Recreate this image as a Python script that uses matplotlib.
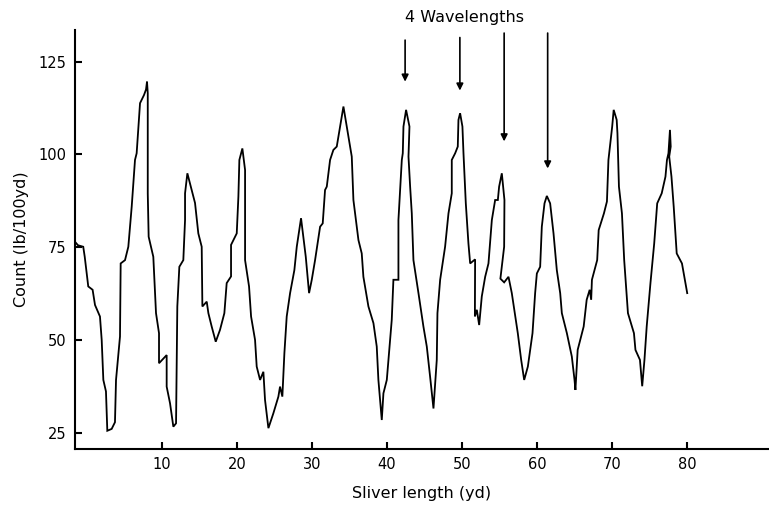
import matplotlib
matplotlib.use("Agg")
import matplotlib.pyplot as plt

# trace: sliver length (yd) vs count (lb/100yd)
sliver_yd = [
    -1.8, -1.2, -0.5, -0.3, 0.17, 0.75, 1.07, 1.73, 1.96, 2.18, 2.53, 2.71, 3.29, 3.73,
    3.87, 4.4, 4.49, 5.07, 5.51, 5.96, 6.4, 6.62, 7.07, 7.6, 7.87, 8.0, 8.1, 8.1, 8.22,
    8.84, 9.2, 9.6, 9.6, 10.62, 10.62, 11.07, 11.51, 11.87, 12.04, 12.31, 12.84, 13.07,
    13.07, 13.38, 14.4, 14.84, 15.29, 15.38, 15.96, 16.18, 16.62, 17.16, 17.73, 18.31,
    18.62, 19.2, 19.2, 19.96, 20.18, 20.31, 20.71, 21.07, 21.07, 21.6, 21.87, 22.4, 22.62,
    23.07, 23.51, 23.73, 24.18, 24.84, 25.51, 25.73, 26.04, 26.31, 26.62, 27.07, 27.64,
    27.96, 28.53, 29.16, 29.6, 29.96, 30.4, 31.07, 31.42, 31.73, 31.96, 32.4, 32.84, 33.29,
    33.73, 34.18, 34.62, 35.29, 35.51, 36.18, 36.62, 36.84, 37.51, 38.18, 38.62, 38.84,
    39.29, 39.51, 39.96, 40.62, 40.84, 41.51, 41.51, 41.96, 42.09, 42.18, 42.53, 42.98,
    42.85, 43.07, 43.29, 43.51, 44.18, 44.84, 45.29, 45.73, 46.18, 46.62, 46.71, 47.07,
    47.73, 48.18, 48.62, 48.62, 49.07, 49.42, 49.51, 49.73, 50.04, 50.18, 50.49, 50.84,
    51.07, 51.73, 51.7, 51.96, 52.27, 52.62, 53.07, 53.51, 53.96, 54.4, 54.76, 54.93,
    55.29, 55.64, 55.6, 55.1, 55.6, 56.18, 56.62, 57.16, 57.42, 57.87, 58.27, 58.76,
    59.38, 59.73, 59.96, 60.4, 60.62, 60.98, 61.29, 61.73, 62.18, 62.62, 63.07, 63.29,
    63.96, 64.62, 64.98, 65.1, 65.4, 66.2, 66.6, 67.0, 67.2, 67.3, 68.0, 68.2, 68.9, 69.3,
    69.5, 70.0, 70.2, 70.6, 70.7, 70.9, 71.3, 71.6, 72.1, 72.9, 73.1, 73.7, 74.0, 74.3,
    74.6, 75.1, 75.6, 76.0, 76.6, 77.1, 77.3, 77.5, 77.7, 77.8, 77.6, 77.9, 78.2, 78.6,
    79.3, 80.0,
]
count = [
    76.9, 75.5, 75.1, 72.4, 64.4, 63.5, 59.4, 56.3, 50.0, 39.2, 36.1, 25.5, 26.0, 27.8,
    39.2, 50.9, 70.6, 71.5, 75.1, 85.9, 98.5, 100.3, 113.8, 116.0, 117.5, 119.6, 116.5, 89.5, 77.8,
    72.4, 57.2, 51.8, 43.7, 45.9, 37.4, 32.9, 26.6, 27.5, 59.0, 69.7, 71.5, 82.3,
    89.5, 94.9, 86.9, 78.7, 75.1, 59.0, 60.3, 57.2, 53.6, 49.5, 52.7, 57.2,
    65.3, 67.1, 75.6, 78.7, 88.6, 98.5, 101.6, 95.8, 71.5, 64.4, 56.3, 50.0, 42.8,
    39.2, 41.4, 33.8, 26.2, 30.2, 34.7, 37.4, 34.7, 46.4, 56.3, 62.6, 68.8,
    75.1, 82.8, 72.4, 62.6, 66.2, 71.5, 80.5, 81.4, 90.4, 91.3, 98.5, 101.2, 102.1,
    107.5, 112.9, 107.5, 99.4, 87.7, 76.9, 73.3, 67.0, 59.0, 54.5, 48.2, 39.2,
    28.4, 35.6, 39.2, 55.4, 66.2, 66.2, 82.3, 98.5, 100.3, 107.5, 112.0, 107.5,
    99.4, 91.3, 84.1, 71.5, 62.6, 53.6, 48.2, 40.1, 31.5, 44.6, 57.2, 66.2,
    75.1, 84.1, 89.5, 98.5, 100.3, 102.1, 109.3, 111.1, 107.5, 100.3, 86.8, 76.0,
    70.6, 71.7, 56.3, 58.1, 54.0, 61.7, 67.0, 70.6, 82.3, 87.7, 87.7, 91.3,
    94.9, 87.7, 75.1, 66.5, 65.5, 67.0, 62.6, 55.4, 51.8, 44.6, 39.2, 42.8,
    51.8, 62.6, 67.9, 69.7, 80.5, 86.8, 88.8, 86.8, 78.7, 68.8, 62.6, 57.2,
    51.8, 45.5, 39.2, 36.5, 47.3, 53.6, 60.8, 63.5, 60.8, 66.2, 71.5, 79.6, 84.1, 87.3,
    98.5, 107.5, 112.0, 109.3, 105.7, 91.3, 84.1, 71.5, 57.2, 51.8, 47.3, 44.6, 37.5, 44.6,
    53.6, 65.3, 76.0, 86.8, 89.5, 94.0, 98.5, 100.3, 106.6, 102.1, 99.4, 94.0, 85.9, 73.3,
    70.6, 62.6,
]

x_ticks = [10, 20, 30, 40, 50, 60, 70, 80]
y_ticks = [25, 50, 75, 100, 125]

# the four marked peaks: x position, arrow top, arrow tip
arrow_x = [42.4, 49.7, 55.6, 61.4]
arrow_top = [130.8, 131.5, 132.7, 132.7]
arrow_tip = [119.6, 117.2, 103.5, 96.2]

fig = plt.figure(figsize=(7.69, 5.19), dpi=100)
ax = fig.add_axes([0.0975, 0.135, 0.9025, 0.807])

ax.plot(sliver_yd, count, color="black", lw=1.3, solid_joinstyle="miter")

ax.set_xlim(-1.6, 90.9)
ax.set_ylim(20.6, 133.5)

for side in ["top", "right"]:
    ax.spines[side].set_visible(False)
for side in ["left", "bottom"]:
    ax.spines[side].set_linewidth(1.5)

ax.set_xticks(x_ticks)
ax.set_yticks(y_ticks)
ax.tick_params(axis="both", direction="in", length=5, width=1.5, labelsize=10.5, pad=6)

ax.set_xlabel("Sliver length (yd)", fontsize=11.5, labelpad=10)
ax.set_ylabel("Count (lb/100yd)", fontsize=11.5, labelpad=7)

for xa, top, tip in zip(arrow_x, arrow_top, arrow_tip):
    ax.annotate("", xy=(xa, tip), xytext=(xa, top),
                arrowprops=dict(arrowstyle="-|>", color="black", lw=1.2,
                                mutation_scale=10, shrinkA=0, shrinkB=0),
                annotation_clip=False)

ax.text(50.3, 136.8, "4 Wavelengths", ha="center", va="center", fontsize=11.5,
        clip_on=False)

fig.savefig("out.png", dpi=100)
